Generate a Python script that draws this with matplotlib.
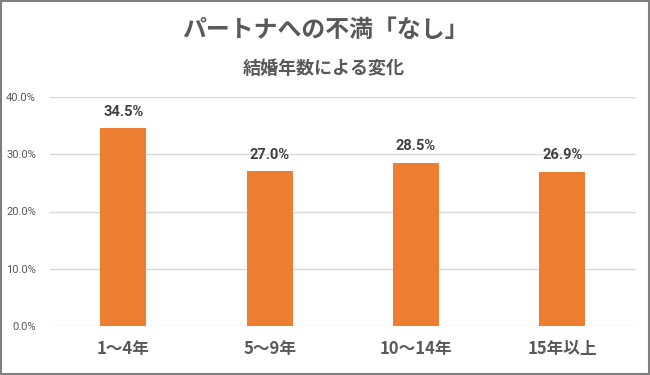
import matplotlib
matplotlib.use("Agg")
import matplotlib.pyplot as plt
from matplotlib.patches import Rectangle
from matplotlib.ticker import FuncFormatter

# データ
categories = ["1〜4年", "5〜9年", "10〜14年", "15年以上"]
values = [34.5, 27.0, 28.5, 26.9]
yticks = [0, 10, 20, 30, 40]

title = "パートナへの不満「なし」"
subtitle = "結婚年数による変化"

plt.rcParams['font.family'] = ['Noto Sans CJK JP', 'DejaVu Sans']

fig = plt.figure(figsize=(6.5, 3.75), dpi=100)
ax = fig.add_axes([0.0769, 0.1307, 0.9011, 0.6106])

x = range(len(categories))
ax.bar(x, values, width=0.314, color="#ED7D31", zorder=3)

for xi, v in zip(x, values):
    ax.text(xi, v + 1.7, f"{v:.1f}%", ha="center", va="bottom",
            fontsize=10.5, fontweight="bold", color="#404040",
            family=['Roboto', 'Noto Sans CJK JP'])

ax.set_xlim(-0.5, len(categories) - 0.5)
ax.set_ylim(0, 40)
ax.set_yticks(yticks)
ax.yaxis.set_major_formatter(FuncFormatter(lambda v, p: f"{v:.1f}%"))
ax.set_xticks(list(x))
ax.set_xticklabels(categories, fontsize=12, fontweight="bold", color="#595959")
for lbl in ax.get_yticklabels():
    lbl.set_family(['Roboto', 'Noto Sans CJK JP'])
    lbl.set_fontsize(8)
    lbl.set_color("#595959")
ax.tick_params(axis="both", length=0)
ax.tick_params(axis="y", pad=10)
ax.tick_params(axis="x", pad=10)
ax.grid(axis="y", color="#D9D9D9", linewidth=1, zorder=0)
for s in ax.spines.values():
    s.set_visible(False)

fig.text(0.501, 0.92, title, ha="center", va="center", fontsize=17.2,
         fontweight="bold", color="#595959")
fig.text(0.498, 0.818, subtitle, ha="center", va="center", fontsize=13,
         fontweight="bold", color="#595959")

# 外枠
fig.patches.append(Rectangle((0.002, 0.003), 0.996, 0.994, transform=fig.transFigure,
                             fill=False, edgecolor="#7F7F7F", linewidth=1.5))

fig.savefig("out.png", dpi=100)
plt.close(fig)
